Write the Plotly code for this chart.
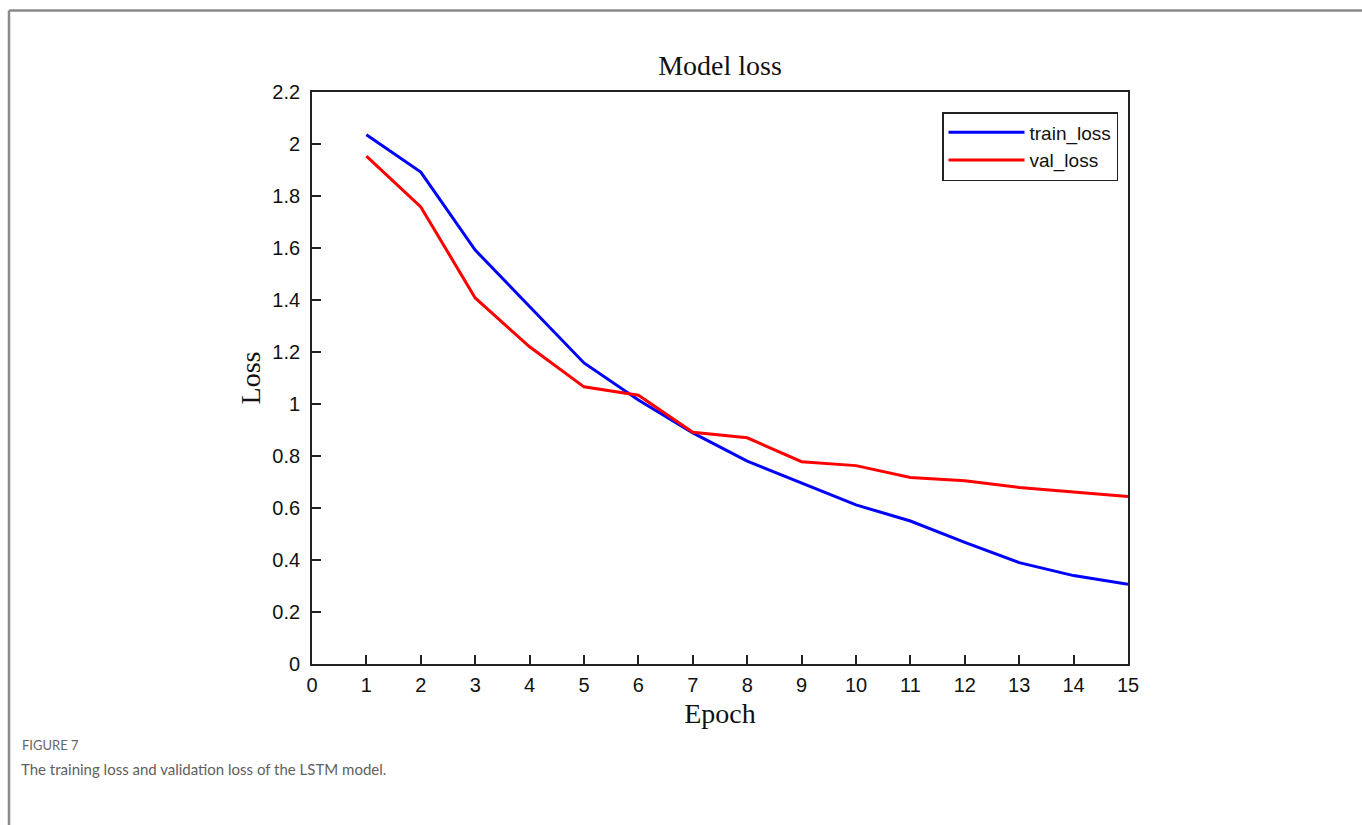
import plotly.graph_objects as go

epochs = [1, 2, 3, 4, 5, 6, 7, 8, 9, 10, 11, 12, 13, 14, 15]
train_loss = [2.036, 1.892, 1.592, 1.373, 1.158, 1.015, 0.889, 0.780, 0.695, 0.612, 0.550, 0.468, 0.390, 0.340, 0.307]
val_loss = [1.953, 1.758, 1.408, 1.220, 1.066, 1.034, 0.891, 0.870, 0.778, 0.763, 0.717, 0.705, 0.679, 0.662, 0.644]

x_ticks = list(range(0, 16))
y_ticks = [0, 0.2, 0.4, 0.6, 0.8, 1.0, 1.2, 1.4, 1.6, 1.8, 2.0, 2.2]
y_tick_labels = ["0", "0.2", "0.4", "0.6", "0.8", "1", "1.2", "1.4", "1.6", "1.8", "2", "2.2"]

W, H = 1362, 825
L, R, T, B = 312, 1128, 92, 664

fig = go.Figure()
fig.add_trace(go.Scatter(x=epochs, y=train_loss, mode="lines", name="train_loss",
                         line=dict(color="#0000ff", width=3)))
fig.add_trace(go.Scatter(x=epochs, y=val_loss, mode="lines", name="val_loss",
                         line=dict(color="#ff0000", width=3)))

def px(x):
    return (x - L) / (R - L)

def py(y):
    return (B - y) / (B - T)

axis_common = dict(showgrid=False, zeroline=False, showline=True, linecolor="#222222",
                   linewidth=1.8, mirror=True, ticks="inside", ticklen=9, tickwidth=1.5,
                   tickcolor="#222222",
                   tickfont=dict(family="Liberation Sans, Arial", size=20, color="#111111"))

fig.update_layout(
    width=W, height=H,
    margin=dict(l=L, r=W - R, t=T, b=H - B),
    paper_bgcolor="white", plot_bgcolor="white",
    title=dict(text="Model loss", x=(L + R) / 2 / W, xanchor="center",
               y=1 - 65 / H, yanchor="middle", yref="container",
               font=dict(family="Liberation Serif, Times New Roman", size=28, color="#111111")),
    xaxis=dict(range=[0, 15], tickmode="array", tickvals=x_ticks,
               ticktext=[str(v) for v in x_ticks], ticklabelstandoff=2,
               title=dict(text="Epoch", standoff=8,
                          font=dict(family="Liberation Serif, Times New Roman", size=28, color="#111111")),
               **axis_common),
    yaxis=dict(range=[0, 2.2], tickmode="array", tickvals=y_ticks, ticktext=y_tick_labels,
               ticklabelstandoff=6,
               title=dict(text="Loss", standoff=3,
                          font=dict(family="Liberation Serif, Times New Roman", size=28, color="#111111")),
               **axis_common),
    legend=dict(x=px(1118), y=py(112), xanchor="right", yanchor="top",
                bgcolor="white", bordercolor="#222222", borderwidth=1.5,
                font=dict(family="Liberation Sans, Arial", size=19, color="#111111"),
                itemwidth=76, tracegroupgap=0),
    showlegend=True,
)

# outer frame (top and left gray rules)
fig.add_shape(type="line", xref="paper", yref="paper", x0=px(9), x1=px(W + 5), y0=py(10.5), y1=py(10.5),
              line=dict(color="#8a8a8a", width=2.5))
fig.add_shape(type="line", xref="paper", yref="paper", x0=px(9), x1=px(9), y0=py(10.5), y1=py(H + 5),
              line=dict(color="#8a8a8a", width=2.5))

fig.add_annotation(text="FIGURE 7", xref="paper", yref="paper", x=px(20), y=py(745),
                   xanchor="left", yanchor="middle", showarrow=False,
                   font=dict(family="Lato, Open Sans", size=13, color="#666666"))
fig.add_annotation(text="The training loss and validation loss of the LSTM model.", xref="paper", yref="paper",
                   x=px(19), y=py(769), xanchor="left", yanchor="middle", showarrow=False,
                   font=dict(family="Lato, Open Sans", size=15, color="#606060"))

fig.write_html("out.html")
